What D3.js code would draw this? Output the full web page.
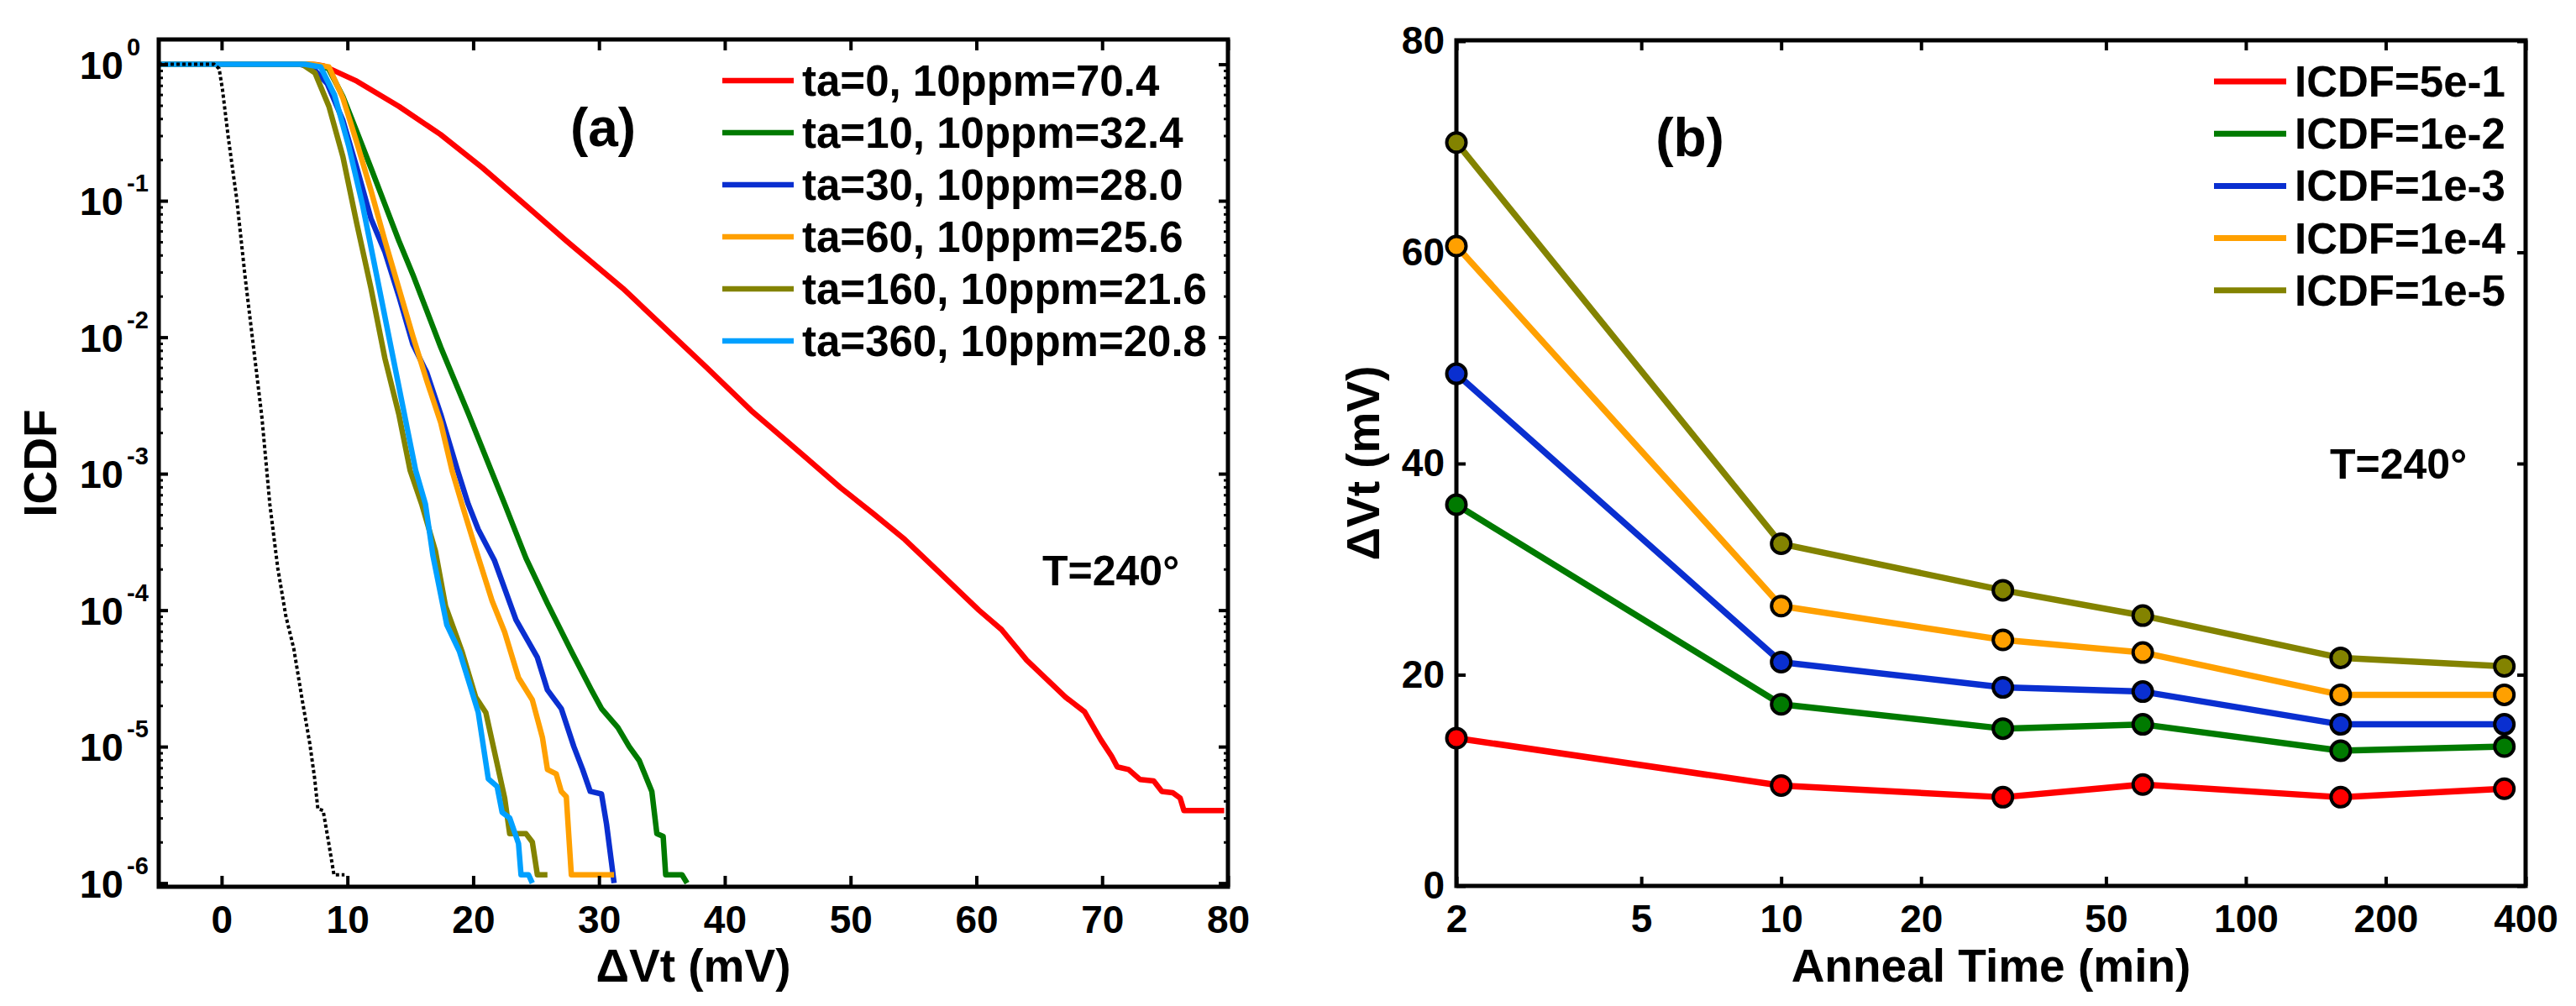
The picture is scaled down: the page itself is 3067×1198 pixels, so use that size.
<!DOCTYPE html>
<html>
<head>
<meta charset="utf-8">
<script src="https://cdn.jsdelivr.net/npm/d3@7"></script>
<style>
  body { margin: 0; background: #fff; }
  svg { display: block; }
  text { font-family: "Liberation Sans", Arial, Helvetica, sans-serif; font-weight: bold; fill: #000; }
</style>
</head>
<body>
<svg id="fig" width="3067" height="1198"></svg>
<script>
// ---- panel (a): ICDF vs dVt, pairs of [dVt (mV), ICDF]
const ta0 = [[-5,1],[6.5,1],[7.5,0.995],[8.1,0.975],[10.75,0.752],[14.1,0.491],[17.4,0.306],[20.75,0.174],[24.1,0.094],[27.4,0.0509],[31.9,0.0228],[38.5,6.07e-3],[42.1,2.9e-3],[46.3,1.35e-3],[49.2,7.9e-4],[51.8,5.1e-4],[54.3,3.3e-4],[56.9,1.95e-4],[60.2,1.0e-4],[62.0,7.2e-5],[64.0,4.3e-5],[67.1,2.3e-5],[68.6,1.8e-5],[69.9,1.12e-5],[70.75,8.5e-6],[71.2,7.1e-6],[72.1,6.8e-6],[73.0,5.75e-6],[74.1,5.6e-6],[74.75,4.7e-6],[75.6,4.6e-6],[76.2,4.2e-6],[76.5,3.4e-6],[79.7,3.4e-6]];
const ta10 = [[-5,1],[6.5,1],[7.5,0.99],[8.5,0.93],[9.64,0.58],[10.75,0.32],[11.87,0.174],[12.98,0.094],[14.09,0.0509],[15.2,0.0288],[16.31,0.0156],[17.42,8.45e-3],[18.53,4.79e-3],[19.64,2.72e-3],[21.42,1.06e-3],[22.5,6.0e-4],[24.2,2.4e-4],[25.9,1.12e-4],[27.8,5.0e-5],[29.4,2.6e-5],[30.2,1.9e-5],[31.5,1.38e-5],[32.4,1.0e-5],[33.2,7.9e-6],[34.2,4.7e-6],[34.6,2.3e-6],[35.1,2.2e-6],[35.3,1.15e-6],[36.6,1.15e-6],[37.0,1.0e-6]];
const ta30 = [[-5,1],[6.2,1],[7.2,0.95],[8.4,0.72],[9.64,0.388],[10.75,0.174],[11.87,0.0741],[12.98,0.0422],[14.09,0.02],[15.2,8.9e-3],[16.31,5.5e-3],[17.42,2.72e-3],[18.75,1.06e-3],[19.6,6.0e-4],[20.4,3.9e-4],[21.7,2.3e-4],[23.4,8.5e-5],[25.1,4.5e-5],[25.9,2.6e-5],[27.0,1.9e-5],[28.0,1.0e-5],[28.7,6.8e-6],[29.3,4.7e-6],[30.2,4.5e-6],[30.6,2.7e-6],[31.0,1.4e-6],[31.2,1.0e-6]];
const ta60 = [[-5,1],[7.2,1],[8.53,0.955],[9.64,0.566],[10.75,0.266],[11.87,0.119],[12.98,0.0509],[14.09,0.0228],[15.2,0.0102],[16.31,4.79e-3],[17.42,2.36e-3],[18.31,1.06e-3],[19.1,6.0e-4],[20.2,2.8e-4],[21.5,1.17e-4],[22.5,6.9e-5],[23.6,3.2e-5],[24.7,2.2e-5],[25.5,1.17e-5],[25.9,6.8e-6],[26.6,6.3e-6],[27.0,4.7e-6],[27.4,4.3e-6],[27.8,1.15e-6],[31.2,1.15e-6]];
const ta160 = [[-5,1],[6.4,1],[7.42,0.865],[8.53,0.491],[9.64,0.21],[10.75,0.0676],[11.87,0.0229],[12.98,7.0e-3],[14.09,2.72e-3],[14.98,1.06e-3],[15.9,6.0e-4],[17.0,2.7e-4],[17.8,1.07e-4],[19.1,5.0e-5],[20.2,2.3e-5],[21.0,1.78e-5],[21.6,1.0e-5],[22.5,4.2e-6],[22.9,2.3e-6],[24.2,2.3e-6],[24.7,2.0e-6],[25.1,1.15e-6],[25.9,1.15e-6]];
const ta360 = [[-5,1],[6.6,1],[7.87,0.955],[8.98,0.594],[10.09,0.254],[11.2,0.0933],[12.31,0.0288],[13.64,7.0e-3],[14.53,2.72e-3],[15.42,1.06e-3],[16.2,6.0e-4],[16.8,2.5e-4],[17.9,7.8e-5],[18.9,5.0e-5],[19.6,3.1e-5],[20.4,1.78e-5],[21.2,5.8e-6],[21.9,5.1e-6],[22.3,3.3e-6],[22.9,3.0e-6],[23.6,1.95e-6],[23.8,1.15e-6],[24.4,1.15e-6],[24.7,1.0e-6]];
const reference = [[-5,1],[-0.6,1],[-0.2,0.93],[0.07,0.65],[0.53,0.29],[1.2,0.103],[1.87,0.0275],[2.53,8.5e-3],[3.2,2.6e-3],[3.83,6.0e-4],[4.46,2.04e-4],[5.1,9.1e-5],[5.74,5.2e-5],[6.37,2.3e-5],[7.01,1.05e-5],[7.4,5.8e-6],[7.65,3.5e-6],[8.07,3.4e-6],[8.5,2.0e-6],[8.93,1.15e-6],[9.77,1.15e-6]];

const namesA = ['ta=0, 10ppm=70.4', 'ta=10, 10ppm=32.4', 'ta=30, 10ppm=28.0',
                'ta=60, 10ppm=25.6', 'ta=160, 10ppm=21.6', 'ta=360, 10ppm=20.8'];
const xTicksA = [0, 10, 20, 30, 40, 50, 60, 70, 80];
const decadesA = [0, -1, -2, -3, -4, -5, -6];

// ---- panel (b): dVt at fixed ICDF levels vs anneal time
const annealTime = [2, 10, 30, 60, 160, 360];
const icdf5e1 = [14.0, 9.5, 8.4, 9.6, 8.4, 9.2];
const icdf1e2 = [36.1, 17.2, 14.9, 15.3, 12.8, 13.2];
const icdf1e3 = [48.5, 21.2, 18.8, 18.4, 15.3, 15.3];
const icdf1e4 = [60.6, 26.5, 23.3, 22.1, 18.1, 18.1];
const icdf1e5 = [70.4, 32.4, 28.0, 25.6, 21.6, 20.8];
const namesB = ['ICDF=5e-1', 'ICDF=1e-2', 'ICDF=1e-3', 'ICDF=1e-4', 'ICDF=1e-5'];
const xTicksB = [2, 5, 10, 20, 50, 100, 200, 400];
const yTicksB = [0, 20, 40, 60, 80];

const RED = '#ff0000', GREEN = '#007a00', BLUE = '#0a2fd0', ORANGE = '#ffa000', OLIVE = '#838300', LBLUE = '#00a0ff';

const svg = d3.select('#fig');
svg.append('rect').attr('width', 3067).attr('height', 1198).attr('fill', '#fff');

const FONT_TICK = 46;

function styleAxis(g) {
  g.attr('font-size', FONT_TICK).attr('font-family', null).attr('font-weight', 'bold');
  g.select('.domain').remove();
  g.selectAll('.tick line').attr('stroke', '#000').attr('stroke-width', 4);
  g.selectAll('.tick text').attr('fill', '#000');
}

// ================= panel (a) =================
const A = { l: 189, r: 1462, t: 47, b: 1056 };
const xA = d3.scaleLinear().domain([-5, 80]).range([A.l, A.r]);
const yA = d3.scaleLog().domain([9.4e-7, 1.52]).range([A.b, A.t]);

const gA = svg.append('g');

// curves
const lineA = d3.line().x(d => xA(d[0])).y(d => yA(d[1]));
const seriesA = [ta0, ta10, ta30, ta60, ta160, ta360];
const colorsA = [RED, GREEN, BLUE, ORANGE, OLIVE, LBLUE];
seriesA.forEach((s, i) => {
  gA.append('path').datum(s)
    .attr('d', lineA)
    .attr('fill', 'none')
    .attr('stroke', colorsA[i])
    .attr('stroke-width', 6.5)
    .attr('stroke-linejoin', 'round');
});
gA.append('path').datum(reference)
  .attr('d', lineA)
  .attr('fill', 'none')
  .attr('stroke', '#000')
  .attr('stroke-width', 4)
  .attr('stroke-dasharray', '4 3');

// axes (ticks inward)
gA.append('g').attr('transform', `translate(0,${A.b})`)
  .call(d3.axisBottom(xA).tickValues(xTicksA).tickSizeInner(-13).tickSizeOuter(0).tickPadding(22).tickFormat(d3.format('d')))
  .call(styleAxis);
gA.append('g').attr('transform', `translate(0,${A.t})`)
  .call(d3.axisTop(xA).tickValues(xTicksA).tickSizeInner(-13).tickSizeOuter(0).tickFormat(''))
  .call(styleAxis);

const majorA = decadesA.map(k => Math.pow(10, k));
const minorA = yA.ticks().filter(v => !majorA.some(m => Math.abs(v / m - 1) < 1e-6));
[[d3.axisLeft, A.l], [d3.axisRight, A.r]].forEach(([ax, xp]) => {
  gA.append('g').attr('transform', `translate(${xp},0)`)
    .call(ax(yA).tickValues(majorA).tickSizeInner(-11).tickSizeOuter(0).tickFormat(''))
    .call(styleAxis);
  gA.append('g').attr('transform', `translate(${xp},0)`)
    .call(ax(yA).tickValues(minorA).tickSizeInner(-5).tickSizeOuter(0).tickFormat(''))
    .call(styleAxis)
    .selectAll('.tick line').attr('stroke-width', 3);
});

// 10^k labels
decadesA.forEach(k => {
  const yy = yA(Math.pow(10, k));
  gA.append('text').attr('x', 147).attr('y', yy + 17)
    .attr('text-anchor', 'end').attr('font-size', 47).text('10');
  gA.append('text').attr('x', 151).attr('y', yy - 11)
    .attr('text-anchor', 'start').attr('font-size', 29).text(String(k));
});

gA.append('rect').attr('x', A.l).attr('y', A.t)
  .attr('width', A.r - A.l).attr('height', A.b - A.t)
  .attr('fill', 'none').attr('stroke', '#000').attr('stroke-width', 5);

// legend
namesA.forEach((n, i) => {
  const yy = 96 + i * 62;
  gA.append('line').attr('x1', 860).attr('x2', 945).attr('y1', yy).attr('y2', yy)
    .attr('stroke', colorsA[i]).attr('stroke-width', 6.5);
  gA.append('text').attr('x', 955).attr('y', yy + 18).attr('font-size', 51).text(n);
});

gA.append('text').attr('x', 718).attr('y', 174).attr('text-anchor', 'middle').attr('font-size', 64).text('(a)');
gA.append('text').attr('x', 1241).attr('y', 697).attr('font-size', 50).text('T=240\u00b0');
gA.append('text').attr('x', (A.l + A.r) / 2).attr('y', 1169).attr('text-anchor', 'middle').attr('font-size', 55).text('\u0394Vt (mV)');
gA.append('text').attr('transform', `translate(67,${(A.t + A.b) / 2}) rotate(-90)`)
  .attr('text-anchor', 'middle').attr('font-size', 55).text('ICDF');

// ================= panel (b) =================
const B = { l: 1734, r: 3007, t: 48, b: 1055 };
const xB = d3.scaleLog().domain([2, 400]).range([B.l, B.r]);
const yB = d3.scaleLinear().domain([0, 80]).range([B.b, 49]);

const gB = svg.append('g');

gB.append('g').attr('transform', `translate(0,${B.b})`)
  .call(d3.axisBottom(xB).tickValues(xTicksB).tickSizeInner(-11).tickSizeOuter(0).tickPadding(22).tickFormat(d3.format('d')))
  .call(styleAxis);
gB.append('g').attr('transform', `translate(0,${B.t})`)
  .call(d3.axisTop(xB).tickValues(xTicksB).tickSizeInner(-12).tickSizeOuter(0).tickFormat(''))
  .call(styleAxis);
gB.append('g').attr('transform', `translate(${B.l},0)`)
  .call(d3.axisLeft(yB).tickValues(yTicksB).tickSizeInner(-11).tickSizeOuter(0).tickPadding(14).tickFormat(d3.format('d')))
  .call(styleAxis);
gB.append('g').attr('transform', `translate(${B.r},0)`)
  .call(d3.axisRight(yB).tickValues(yTicksB).tickSizeInner(-10).tickSizeOuter(0).tickFormat(''))
  .call(styleAxis);

gB.append('rect').attr('x', B.l).attr('y', B.t)
  .attr('width', B.r - B.l).attr('height', B.b - B.t)
  .attr('fill', 'none').attr('stroke', '#000').attr('stroke-width', 5);

const seriesB = [icdf5e1, icdf1e2, icdf1e3, icdf1e4, icdf1e5];
const colorsB = [RED, GREEN, BLUE, ORANGE, OLIVE];
const lineB = d3.line().x((d, i) => xB(annealTime[i])).y(d => yB(d));
seriesB.forEach((s, i) => {
  const g = gB.append('g');
  g.append('path').datum(s).attr('d', lineB)
    .attr('fill', 'none').attr('stroke', colorsB[i]).attr('stroke-width', 7.5)
    .attr('stroke-linejoin', 'round');
  g.selectAll('circle').data(s).join('circle')
    .attr('cx', (d, j) => xB(annealTime[j]))
    .attr('cy', d => yB(d))
    .attr('r', 11.5)
    .attr('fill', colorsB[i])
    .attr('stroke', '#000')
    .attr('stroke-width', 4);
});

namesB.forEach((n, i) => {
  const yy = 97 + i * 62.2;
  gB.append('line').attr('x1', 2636).attr('x2', 2722).attr('y1', yy).attr('y2', yy)
    .attr('stroke', colorsB[i]).attr('stroke-width', 7);
  gB.append('text').attr('x', 2732).attr('y', yy + 18).attr('font-size', 51).text(n);
});

gB.append('text').attr('x', 2012).attr('y', 186).attr('text-anchor', 'middle').attr('font-size', 64).text('(b)');
gB.append('text').attr('x', 2774).attr('y', 570).attr('font-size', 50).text('T=240\u00b0');
gB.append('text').attr('x', (B.l + B.r) / 2).attr('y', 1169).attr('text-anchor', 'middle').attr('font-size', 55).text('Anneal Time (min)');
gB.append('text').attr('transform', `translate(1642,${(B.t + B.b) / 2}) rotate(-90)`)
  .attr('text-anchor', 'middle').attr('font-size', 55).text('\u0394Vt (mV)');
</script>
</body>
</html>
